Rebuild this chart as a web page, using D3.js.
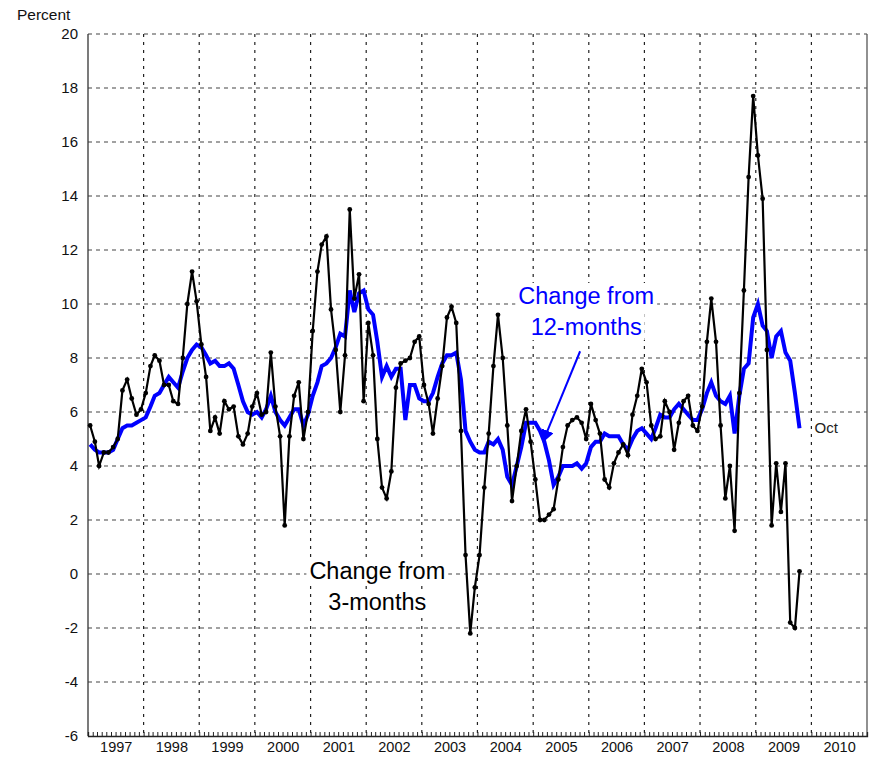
<!DOCTYPE html>
<html>
<head>
<meta charset="utf-8">
<script src="https://cdn.jsdelivr.net/npm/d3@7"></script>
<style>
  body { margin: 0; background: #fff; }
  svg { font-family: "Liberation Sans", Arial, sans-serif; }
</style>
</head>
<body>
<svg id="chart" width="872" height="760"></svg>
<script>
// monthly series, Jan 1997 .. Oct 2009
var startYear = 1997;
var change3m = [
  5.5, 4.9, 4.0, 4.5, 4.5, 4.7, 5.0, 6.8, 7.2, 6.5, 5.9, 6.1,      // 1997
  6.7, 7.7, 8.1, 7.9, 7.0, 7.0, 6.4, 6.3, 8.0, 10.0, 11.2, 10.1,  // 1998
  8.5, 7.3, 5.3, 5.8, 5.2, 6.4, 6.1, 6.2, 5.1, 4.8, 5.2, 6.2,     // 1999
  6.7, 5.9, 6.0, 8.2, 6.2, 5.1, 1.8, 5.1, 6.6, 7.1, 5.0, 6.0,     // 2000
  9.0, 11.2, 12.2, 12.5, 9.8, 8.3, 6.0, 8.1, 13.5, 10.2, 11.1, 6.4, // 2001
  9.3, 8.1, 5.0, 3.2, 2.8, 3.8, 6.9, 7.8, 7.9, 8.0, 8.6, 8.8,     // 2002
  7.0, 6.3, 5.2, 6.5, 7.7, 9.5, 9.9, 9.3, 5.3, 0.7, -2.2, -0.5,   // 2003
  0.7, 3.2, 5.2, 7.7, 9.6, 8.0, 5.5, 2.7, 4.0, 5.3, 6.1, 4.9,     // 2004
  3.5, 2.0, 2.0, 2.2, 2.4, 3.5, 4.7, 5.5, 5.7, 5.8, 5.6, 5.0,     // 2005
  6.3, 5.7, 5.2, 3.5, 3.2, 4.1, 4.5, 4.8, 4.4, 5.9, 6.6, 7.6,     // 2006
  7.1, 5.5, 5.0, 5.1, 6.4, 6.0, 4.6, 5.6, 6.4, 6.6, 5.5, 5.3,     // 2007
  6.2, 8.6, 10.2, 8.6, 5.5, 2.8, 4.0, 1.6, 6.7, 10.5, 14.7, 17.7, // 2008
  15.5, 13.9, 8.3, 1.8, 4.1, 2.3, 4.1, -1.8, -2.0, 0.1            // 2009
];
var change12m = [
  4.8, 4.6, 4.5, 4.5, 4.5, 4.6, 5.0, 5.4, 5.5, 5.5, 5.6, 5.7,     // 1997
  5.8, 6.2, 6.6, 6.7, 7.0, 7.3, 7.1, 6.9, 7.5, 8.0, 8.3, 8.5,     // 1998
  8.4, 8.1, 7.8, 7.9, 7.7, 7.7, 7.8, 7.6, 7.0, 6.4, 6.0, 5.9,     // 1999
  6.0, 5.8, 6.1, 6.6, 6.0, 5.7, 5.5, 5.8, 6.1, 6.1, 5.5, 5.9,     // 2000
  6.6, 7.1, 7.7, 7.8, 8.0, 8.4, 8.9, 8.8, 10.5, 9.7, 10.4, 10.5,  // 2001
  9.8, 9.6, 8.6, 7.3, 7.7, 7.3, 7.6, 7.6, 5.7, 7.0, 7.0, 6.5,     // 2002
  6.4, 6.4, 6.7, 7.3, 7.8, 8.1, 8.1, 8.2, 7.2, 5.3, 4.9, 4.6,     // 2003
  4.5, 4.5, 4.9, 4.8, 5.0, 4.6, 3.6, 3.3, 4.0, 4.7, 5.6, 5.6,     // 2004
  5.6, 5.3, 4.9, 4.2, 3.3, 3.6, 4.0, 4.0, 4.0, 4.1, 3.9, 4.1,     // 2005
  4.7, 4.9, 4.9, 5.2, 5.1, 5.1, 5.1, 4.8, 4.6, 5.0, 5.3, 5.4,     // 2006
  5.2, 5.0, 5.4, 5.9, 5.8, 5.8, 6.1, 6.3, 6.1, 5.9, 5.7, 5.7,     // 2007
  6.1, 6.7, 7.1, 6.6, 6.4, 6.3, 6.6, 5.2, 6.6, 7.6, 7.8, 9.5,     // 2008
  10.0, 9.2, 9.0, 8.0, 8.8, 9.0, 8.2, 7.9, 6.7, 5.4                // 2009
];
var yTicks = [-6, -4, -2, 0, 2, 4, 6, 8, 10, 12, 14, 16, 18, 20];
var yearLabels = [1997, 1998, 1999, 2000, 2001, 2002, 2003, 2004, 2005, 2006, 2007, 2008, 2009, 2010];
var lastLabel = "Oct";

var svg = d3.select("#chart");
var margin = {top: 34, right: 5, bottom: 24, left: 88};
var width = 872 - margin.left - margin.right;
var height = 760 - margin.top - margin.bottom;

var g = svg.append("g").attr("transform", "translate(" + margin.left + "," + margin.top + ")");

var x = d3.scaleUtc()
  .domain([new Date(Date.UTC(1997, 0, 1)), new Date(Date.UTC(2011, 0, 1))])
  .range([0, width]);
var y = d3.scaleLinear().domain([-6, 20]).range([height, 0]);

function monthDate(i){ return new Date(Date.UTC(startYear, i, 15)); }

var data3 = change3m.map(function(v, i){ return {date: monthDate(i), value: v}; });
var data12 = change12m.map(function(v, i){ return {date: monthDate(i), value: v}; });

// grid
var yearStarts = yearLabels.slice(1).map(function(yr){ return new Date(Date.UTC(yr, 0, 1)); });
g.append("g").selectAll("line")
  .data(yearStarts)
  .enter().append("line")
  .attr("x1", function(d){ return x(d); })
  .attr("x2", function(d){ return x(d); })
  .attr("y1", 0).attr("y2", height)
  .attr("stroke", "#222").attr("stroke-width", 1.2)
  .attr("stroke-dasharray", "3,5");

g.append("g").selectAll("line")
  .data(yTicks.filter(function(t){ return t > -6; }))
  .enter().append("line")
  .attr("x1", 0).attr("x2", width)
  .attr("y1", function(d){ return y(d); })
  .attr("y2", function(d){ return y(d); })
  .attr("stroke", "#444").attr("stroke-width", 1.2)
  .attr("stroke-dasharray", "4,4");

// frame
g.append("line").attr("x1", 0).attr("x2", 0).attr("y1", 0).attr("y2", height)
  .attr("stroke", "#333").attr("stroke-width", 1.3);
g.append("line").attr("x1", width).attr("x2", width).attr("y1", 0).attr("y2", height)
  .attr("stroke", "#555").attr("stroke-width", 1.3);

// bottom axis: monthly ticks
var xAxis = d3.axisBottom(x)
  .ticks(d3.utcMonth.every(1))
  .tickSize(-4)
  .tickFormat("");
var xa = g.append("g").attr("transform", "translate(0," + height + ")").call(xAxis);
xa.select(".domain").attr("stroke", "#222").attr("stroke-width", 1.3);
xa.selectAll(".tick line").attr("stroke", "#222");

// year labels at mid-year
var yearAxis = d3.axisBottom(x)
  .tickValues(yearLabels.map(function(yr){ return new Date(Date.UTC(yr, 6, 2)); }))
  .tickSize(0)
  .tickPadding(6)
  .tickFormat(d3.utcFormat("%Y"));
var ya2 = g.append("g").attr("transform", "translate(0," + height + ")").call(yearAxis);
ya2.select(".domain").remove();
ya2.selectAll("text").attr("font-size", 14.5).attr("fill", "#111")
  .attr("font-family", "Liberation Sans, Arial, sans-serif");

// y axis labels (plain hyphen for negatives, as in the original)
var yAxis = d3.axisLeft(y).tickValues(yTicks).tickSize(0).tickPadding(10)
  .tickFormat(function(d){ return String(d); });
var ya = g.append("g").call(yAxis);
ya.select(".domain").remove();
ya.selectAll("text").attr("font-size", 15).attr("fill", "#111")
  .attr("font-family", "Liberation Sans, Arial, sans-serif");

svg.append("text")
  .attr("x", 17).attr("y", 20)
  .attr("font-size", 15.5).attr("fill", "#111")
  .text("Percent");

// text labels with a white box behind each line (hides grid)
var notes = g.append("g");
function twoLine(dateAnchor, valueAnchor, lines, color){
  lines.forEach(function(s, k){
    var box = notes.append("rect").attr("fill", "#fff");
    var t = notes.append("text")
      .attr("text-anchor", "middle")
      .attr("font-size", 23.5)
      .attr("fill", color)
      .attr("x", x(dateAnchor))
      .attr("y", y(valueAnchor) + k * 31)
      .text(s);
    var bb = t.node().getBBox();
    box.attr("x", bb.x - 3).attr("y", bb.y)
      .attr("width", bb.width + 6).attr("height", bb.height);
  });
}
twoLine(new Date(Date.UTC(2002, 2, 15)), -0.2, ["Change from", "3-months"], "#000");
twoLine(new Date(Date.UTC(2005, 11, 15)), 10.0, ["Change from", "12-months"], "#0000ff");

// lines
var line = d3.line()
  .x(function(d){ return x(d.date); })
  .y(function(d){ return y(d.value); });

g.append("path")
  .datum(data12)
  .attr("fill", "none")
  .attr("stroke", "#0000ff")
  .attr("stroke-width", 4)
  .attr("stroke-linejoin", "miter")
  .attr("d", line);

g.append("path")
  .datum(data3)
  .attr("fill", "none")
  .attr("stroke", "#000")
  .attr("stroke-width", 2.2)
  .attr("stroke-linejoin", "miter")
  .attr("d", line);

g.append("g").selectAll("circle")
  .data(data3)
  .enter().append("circle")
  .attr("cx", function(d){ return x(d.date); })
  .attr("cy", function(d){ return y(d.value); })
  .attr("r", 2.4)
  .attr("fill", "#000");

var last12 = data12[data12.length - 1];
g.append("text")
  .attr("x", x(last12.date) + 15)
  .attr("y", y(last12.value) + 5)
  .attr("font-size", 15).attr("fill", "#222")
  .text(lastLabel);

// arrow to the 12-month line
svg.append("defs").append("marker")
  .attr("id", "arrow")
  .attr("viewBox", "0 0 10 10")
  .attr("refX", 8).attr("refY", 5)
  .attr("markerWidth", 6.5).attr("markerHeight", 6.5)
  .attr("orient", "auto")
  .append("path")
  .attr("d", "M0,0 L10,5 L0,10 z")
  .attr("fill", "#0000ff");

g.append("line")
  .attr("x1", x(new Date(Date.UTC(2005, 10, 5))))
  .attr("y1", y(8.25))
  .attr("x2", x(new Date(Date.UTC(2005, 2, 10))))
  .attr("y2", y(4.95))
  .attr("stroke", "#0000ff")
  .attr("stroke-width", 2)
  .attr("marker-end", "url(#arrow)");
</script>
</body>
</html>
